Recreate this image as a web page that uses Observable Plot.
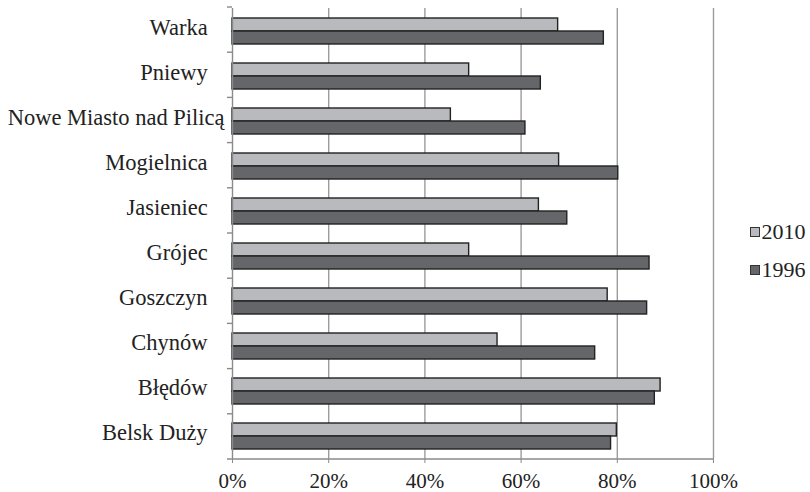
<!DOCTYPE html>
<html>
<head>
<meta charset="utf-8">
<script src="https://cdn.jsdelivr.net/npm/d3@7"></script>
<script src="https://cdn.jsdelivr.net/npm/@observablehq/plot@0.6"></script>
<style>
  html, body { margin: 0; padding: 0; background: #fff; }
  #wrap { position: relative; width: 810px; height: 492px; font-family: "Liberation Serif", "DejaVu Serif", serif; }
  #legend { position: absolute; left: 750px; top: 217px; font-size: 22px; color: #222; }
  #legend .item { display: flex; align-items: center; height: 30px; margin-bottom: 8px; }
  #legend .sw { width: 7.5px; height: 7.5px; border: 1.5px solid #333; margin-right: 2px; }
  svg text { font-family: "Liberation Serif", "DejaVu Serif", serif; }
  svg [aria-label="x-axis tick"] path, svg [aria-label="x-axis"] .tick line { stroke: #8a8a8a; }
</style>
</head>
<body>
<div id="wrap"><div id="legend"></div></div>
<script>
// Categories (top to bottom as in the chart)
const municipalities = ["Warka", "Pniewy", "Nowe Miasto nad Pilicą", "Mogielnica", "Jasieniec",
  "Grójec", "Goszczyn", "Chynów", "Błędów", "Belsk Duży"];
const years = ["2010", "1996"];
// Shares (fraction)
const values2010 = [0.677, 0.492, 0.454, 0.679, 0.637, 0.492, 0.780, 0.551, 0.890, 0.799];
const values1996 = [0.772, 0.641, 0.609, 0.802, 0.696, 0.867, 0.862, 0.754, 0.878, 0.787];
const xTicks = [0, 0.2, 0.4, 0.6, 0.8, 1.0];
const colors = ["#b9babe", "#65666a"];

const rows = [];
municipalities.forEach((m, i) => {
  rows.push({name: m, year: "2010", value: values2010[i]});
  rows.push({name: m, year: "1996", value: values1996[i]});
});

const longest = municipalities.reduce((a, b) => (b.length > a.length ? b : a));

const plot = Plot.plot({
  width: 810,
  height: 492,
  marginLeft: 232,
  marginRight: 97,
  marginTop: 7,
  marginBottom: 33,
  style: {fontFamily: "'Liberation Serif', 'DejaVu Serif', serif", fontSize: "21px", color: "#222", background: "#fff"},
  x: {domain: [0, 1], ticks: xTicks, tickFormat: d3.format(".0%"), tickSize: 5, tickPadding: 10, label: null},
  y: {domain: years, paddingInner: 0, paddingOuter: 0.73, axis: null},
  fy: {domain: municipalities, padding: 0, axis: "left", label: null, tickSize: 0, tickPadding: 8,
       tickFormat: d => d === longest ? d : d + "\u00a0\u00a0\u00a0"},
  color: {domain: years, range: colors},
  marks: [
    Plot.ruleX(xTicks.slice(1), {stroke: "#9c9c9c", strokeWidth: 1.4}),
    Plot.barX(rows, {x: "value", y: "year", fy: "name", fill: "year", stroke: "#222", strokeWidth: 1.4}),
    Plot.ruleX([0], {stroke: "#8a8a8a", strokeWidth: 1.4})
  ]
});

document.getElementById("wrap").prepend(plot);

const svg = d3.select(plot);
// Category labels: slightly larger and a touch higher, as in the reference
svg.selectAll('[aria-label^="fy-axis"] text').style("font-size", "22.5px").attr("dy", "-0.13em");

// Frame details: bottom axis line and category boundary ticks, placed with Plot's own scales
const sx = plot.scale("x");
const sfy = plot.scale("fy");
const fyRange = sfy.range;
const step = (fyRange[1] - fyRange[0]) / municipalities.length;
const x0 = sx.apply(0), x1 = sx.apply(1);
const g = svg.append("g").attr("stroke", "#8a8a8a").attr("stroke-width", 1.4);
g.append("line").attr("x1", x0 - 5).attr("x2", x1).attr("y1", fyRange[1]).attr("y2", fyRange[1]);
municipalities.forEach((m, i) => {
  const yb = fyRange[0] + i * step;
  g.append("line").attr("x1", x0 - 5).attr("x2", x0).attr("y1", yb).attr("y2", yb);
});

// Legend
const legend = d3.select("#legend");
years.forEach((yr, i) => {
  const item = legend.append("div").attr("class", "item");
  item.append("div").attr("class", "sw").style("background", colors[i]);
  item.append("span").text(yr);
});
</script>
</body>
</html>
